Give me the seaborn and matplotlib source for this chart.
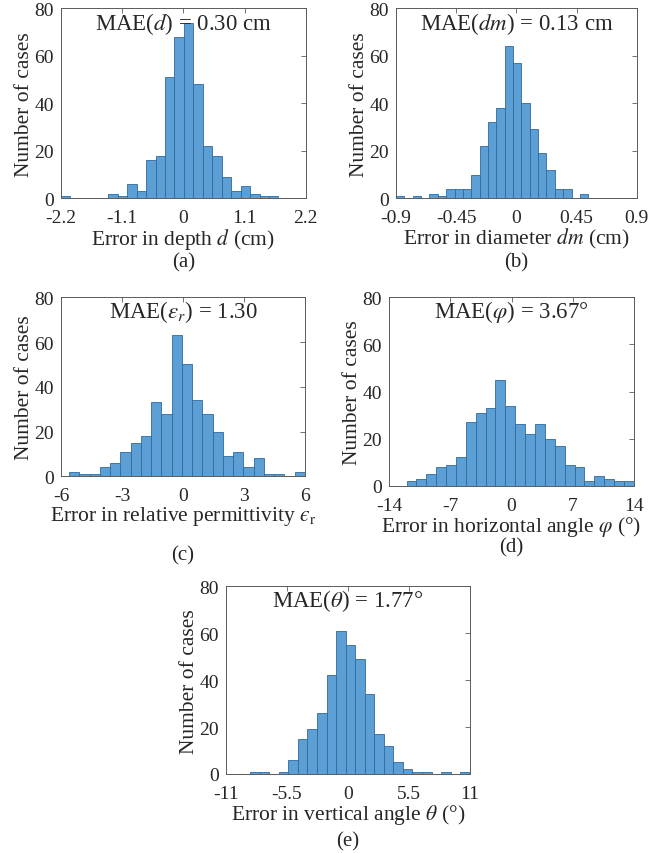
import numpy as np
import pandas as pd
import matplotlib
matplotlib.use("Agg")
import matplotlib.pyplot as plt
import seaborn as sns

# Histogram counts per error bin (350 test cases per quantity)
depth_counts = [1, 0, 0, 0, 0, 2, 1, 6, 3, 16, 18, 51, 68, 74, 48, 22, 18, 9, 3, 5, 2, 1, 1]
depth_bin_start, depth_bin_width = -2.2, 0.17

diam_counts = [1, 0, 1, 0, 2, 1, 4, 4, 4, 10, 22, 32, 38, 64, 57, 40, 29, 19, 12, 4, 4, 0, 2]
diam_bin_start, diam_bin_width = -0.9, 0.0625

perm_counts = [2, 1, 1, 4, 6, 11, 15, 18, 33, 28, 63, 50, 34, 28, 20, 9, 11, 4, 8, 1, 1, 0, 2]
perm_bin_start, perm_bin_width = -5.6, 0.504

hang_counts = [2, 3, 5, 8, 9, 12, 27, 31, 33, 45, 34, 26, 22, 26, 20, 17, 9, 8, 2, 4, 3, 2, 2]
hang_bin_start, hang_bin_width = -12.0, 1.13

vang_counts = [1, 1, 0, 1, 6, 15, 19, 26, 42, 61, 55, 49, 34, 17, 12, 5, 2, 1, 1, 0, 1, 0, 1]
vang_bin_start, vang_bin_width = -8.8, 0.86

# Axis ticks
depth_ticks = [-2.2, -1.1, 0, 1.1, 2.2]
depth_ticklabels = ["-2.2", "-1.1", "0", "1.1", "2.2"]
diam_ticks = [-0.9, -0.45, 0, 0.45, 0.9]
diam_ticklabels = ["-0.9", "-0.45", "0", "0.45", "0.9"]
perm_ticks = [-6, -3, 0, 3, 6]
perm_ticklabels = ["-6", "-3", "0", "3", "6"]
hang_ticks = [-14, -7, 0, 7, 14]
hang_ticklabels = ["-14", "-7", "0", "7", "14"]
vang_ticks = [-11, -5.5, 0, 5.5, 11]
vang_ticklabels = ["-11", "-5.5", "0", "5.5", "11"]
y_ticks = [0, 20, 40, 60, 80]

# Texts
mae_texts = [r"MAE($d$) = 0.30 cm", r"MAE($dm$) = 0.13 cm", "MAE($\u03b5_r$) = 1.30",
             r"MAE($\varphi$) = 3.67°", r"MAE($\theta$) = 1.77°"]
xlabels = [r"Error in depth $d$ (cm)", r"Error in diameter $dm$ (cm)",
           "Error in relative permittivity $\u03f5_{\\mathrm{r}}$",
           r"Error in horizontal angle $\varphi$ (°)", r"Error in vertical angle $\theta$ (°)"]
panel_tags = ["(a)", "(b)", "(c)", "(d)", "(e)"]

sns.set_style("white")
plt.rcParams["font.family"] = ["Liberation Serif", "DejaVu Serif"]
plt.rcParams["mathtext.fontset"] = "stix"

TEXT = "#262626"
FRAME = "#5a5a5a"
FACE = "#5b9fd5"
EDGE = "#2f6a9e"

W, H = 670, 854
fig = plt.figure(figsize=(W / 100, H / 100), dpi=100)


def rect(left, top, right, bottom):
    return [left / W, 1 - bottom / H, (right - left) / W, (bottom - top) / H]


panels = [
    dict(r=rect(61, 9.3, 305.7, 199.3), counts=depth_counts, start=depth_bin_start, width=depth_bin_width,
         lim=(-2.2, 2.2), ticks=depth_ticks, tl=depth_ticklabels, tag_y=263),
    dict(r=rect(396, 9.3, 636.7, 199.3), counts=diam_counts, start=diam_bin_start, width=diam_bin_width,
         lim=(-0.9, 0.9), ticks=diam_ticks, tl=diam_ticklabels, tag_y=263),
    dict(r=rect(61, 298.3, 305, 477.3), counts=perm_counts, start=perm_bin_start, width=perm_bin_width,
         lim=(-6, 6), ticks=perm_ticks, tl=perm_ticklabels, tag_y=556),
    dict(r=rect(389, 298.3, 634, 486.7), counts=hang_counts, start=hang_bin_start, width=hang_bin_width,
         lim=(-14, 14), ticks=hang_ticks, tl=hang_ticklabels, tag_y=548),
    dict(r=rect(225.7, 587.3, 470, 775), counts=vang_counts, start=vang_bin_start, width=vang_bin_width,
         lim=(-11, 11), ticks=vang_ticks, tl=vang_ticklabels, tag_y=842),
]

for i, p in enumerate(panels):
    ax = fig.add_axes(p["r"])
    counts = np.asarray(p["counts"], dtype=float)
    nbins = len(counts)
    lo = p["start"]
    hi = p["start"] + p["width"] * nbins
    df = pd.DataFrame({"err": lo + p["width"] * (np.arange(nbins) + 0.5), "n": counts})
    sns.histplot(data=df, x="err", weights="n", bins=nbins, binrange=(lo, hi), ax=ax,
                 color=FACE, alpha=1.0, edgecolor=EDGE, linewidth=0.6)
    ax.set_xlim(*p["lim"])
    ax.set_ylim(0, 80)
    ax.set_xticks(p["ticks"])
    ax.set_xticklabels(p["tl"])
    ax.set_yticks(y_ticks)
    ax.tick_params(direction="in", length=3.5, width=0.6, colors=FRAME, labelcolor=TEXT,
                   labelsize=14, top=True, right=True)
    ax.tick_params(axis="x", pad=8)
    ax.tick_params(axis="y", pad=5)
    for s in ax.spines.values():
        s.set_color(FRAME)
        s.set_linewidth(0.7)
    ax.set_ylabel("Number of cases", fontsize=15.5, color=TEXT, labelpad=0)
    ax.set_xlabel(xlabels[i], fontsize=15.5, color=TEXT, labelpad=0)
    ax.text(0.5, 0.925, mae_texts[i], transform=ax.transAxes, ha="center", va="center",
            fontsize=16.5, color=TEXT, zorder=5)
    cx = (p["r"][0] + p["r"][2] / 2)
    fig.text(cx, 1 - p["tag_y"] / H, panel_tags[i], ha="center", va="center",
             fontsize=15, color=TEXT)

fig.savefig("out.png", dpi=100, facecolor="white")
